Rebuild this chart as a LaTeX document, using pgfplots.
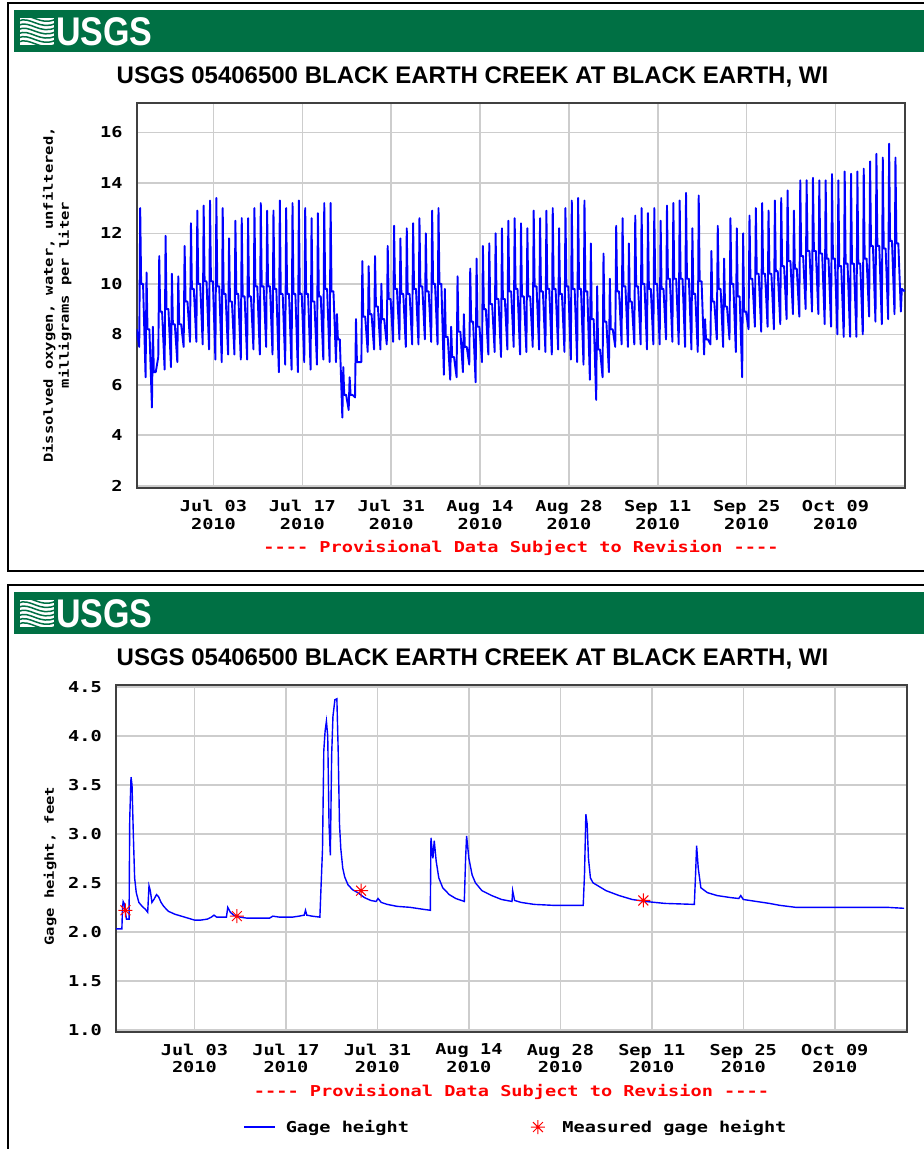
\documentclass[border=0pt]{standalone}
\usepackage{pgfplots}
\pgfplotsset{compat=1.18}
\usepackage{fontspec}
\setmainfont{Liberation Sans}
\newfontfamily\monofont[FakeStretch=1.24]{DejaVu Sans Mono}
\newfontfamily\logofont[FakeStretch=0.85]{Liberation Sans}
\definecolor{usgsgreen}{RGB}{0,112,68}
\definecolor{gridgray}{RGB}{205,205,205}
\definecolor{framegray}{RGB}{64,64,64}
\newcommand\tickfont{\monofont\bfseries\fontsize{15}{17.6}\selectfont}
\newcommand\labfont{\monofont\bfseries\fontsize{12.5}{16}\selectfont}
\newcommand\dashes{\mbox{-}\mbox{-}\mbox{-}\mbox{-}}
\pgfdeclareplotmark{ast8}{%
  \pgfpathmoveto{\pgfqpoint{-\pgfplotmarksize}{0pt}}\pgfpathlineto{\pgfqpoint{\pgfplotmarksize}{0pt}}%
  \pgfpathmoveto{\pgfqpoint{0pt}{-\pgfplotmarksize}}\pgfpathlineto{\pgfqpoint{0pt}{\pgfplotmarksize}}%
  \pgfpathmoveto{\pgfqpoint{-0.707\pgfplotmarksize}{-0.707\pgfplotmarksize}}\pgfpathlineto{\pgfqpoint{0.707\pgfplotmarksize}{0.707\pgfplotmarksize}}%
  \pgfpathmoveto{\pgfqpoint{-0.707\pgfplotmarksize}{0.707\pgfplotmarksize}}\pgfpathlineto{\pgfqpoint{0.707\pgfplotmarksize}{-0.707\pgfplotmarksize}}%
  \pgfusepathqstroke}
\pgfplotsset{
  usgs/.style={
    scale only axis,
    xmin=-12, xmax=109,
    axis line style={framegray, line width=2pt},
    grid=major,
    major grid style={gridgray, line width=1.6pt},
    major tick length=0pt,
    tick style={draw=none},
    tick label style={font=\tickfont},
    /pgf/number format/assume math mode=true,
    xtick={0,14,28,42,56,70,84,98},
    xticklabels={{Jul 03\\2010},{Jul 17\\2010},{Jul 31\\2010},{Aug 14\\2010},{Aug 28\\2010},{Sep 11\\2010},{Sep 25\\2010},{Oct 09\\2010}},
    xticklabel style={align=center, inner sep=0pt, yshift=-12pt},
    yticklabel style={inner sep=0pt, xshift=-14pt},
  }
}
\newcommand\usgsheader[1]{%
  \begin{scope}[yshift=#1]
    \fill[usgsgreen] (14,-10) rectangle (930,-52);
    \begin{scope}
      \clip (20,-18) rectangle (54,-45);
      \fill[white] (20,-18) rectangle (54,-45);
      \foreach \k in {0,...,6} \draw[usgsgreen, line width=1.5pt] (18,-17-4.2*\k) .. controls (30,-11-4.2*\k) and (40,-27-4.2*\k) .. (56,-19-4.2*\k);
    \end{scope}
    \node[anchor=base west, inner sep=0pt, text=white, font=\logofont\bfseries\fontsize{40}{40}\selectfont] at (56,-45) {USGS};
    \node[anchor=base, inner sep=0pt, font=\bfseries\fontsize{24}{28}\selectfont] at (472.5,-83.5) {USGS 05406500 BLACK EARTH CREEK AT BLACK EARTH, WI};
  \end{scope}}
\begin{document}
\begin{tikzpicture}[x=1pt,y=1pt]
\useasboundingbox (0,0) rectangle (924,-1149);
\fill[white] (0,0) rectangle (924,-1149);
% ---------------- panel 1
\draw[black, line width=1.5pt] (8,-3) rectangle (940,-571);
\usgsheader{0pt}
\begin{axis}[usgs, at={(136.7pt,-103.3pt)}, anchor=north west, width=768.6pt, height=385pt,
  xmin=-12.1, ymin=1.9, ymax=17.15, ytick={2,4,6,8,10,12,14,16}, yticklabels={2,4,6,8,10,12,14,16}]
\addplot[blue, line width=1.9pt, line join=round] coordinates {
(-12.1,8.2)
(-11.7,7.5)(-11.55,13.0)(-11.4,10.0)(-11.1,10.0)
(-10.7,6.3)(-10.55,10.45)(-10.4,8.2)(-10.1,8.2)
(-9.7,5.1)(-9.55,8.3)(-9.4,6.5)(-9.1,6.5)
(-8.7,7.1)(-8.55,11.1)(-8.4,8.9)(-8.1,8.9)
(-7.7,6.6)(-7.55,11.9)(-7.4,9.0)(-7.1,9.0)
(-6.7,6.7)(-6.55,10.4)(-6.4,8.4)(-6.1,8.4)
(-5.7,6.9)(-5.55,10.3)(-5.4,8.4)(-5.1,8.4)
(-4.7,7.5)(-4.55,11.5)(-4.4,9.3)(-4.1,9.3)
(-3.7,7.7)(-3.55,12.4)(-3.4,9.8)(-3.1,9.8)
(-2.7,7.7)(-2.55,12.9)(-2.4,10.0)(-2.1,10.0)
(-1.7,7.6)(-1.55,13.1)(-1.4,10.1)(-1.1,10.1)
(-0.7,7.4)(-0.55,13.3)(-0.4,10.1)(-0.1,10.1)
(0.3,7.0)(0.45,13.4)(0.6,9.9)(0.9,9.9)
(1.3,6.9)(1.45,13.0)(1.6,9.6)(1.9,9.6)
(2.3,7.2)(2.45,11.8)(2.6,9.3)(2.9,9.3)
(3.3,7.2)(3.45,12.5)(3.6,9.6)(3.9,9.6)
(4.3,7.0)(4.45,12.6)(4.6,9.5)(4.9,9.5)
(5.3,7.0)(5.45,12.6)(5.6,9.5)(5.9,9.5)
(6.3,7.4)(6.45,13.0)(6.6,9.9)(6.9,9.9)
(7.3,7.2)(7.45,13.2)(7.6,9.9)(7.9,9.9)
(8.3,7.5)(8.45,12.9)(8.6,9.9)(8.9,9.9)
(9.3,7.2)(9.45,12.9)(9.6,9.8)(9.9,9.8)
(10.3,6.5)(10.45,13.3)(10.6,9.6)(10.9,9.6)
(11.3,6.8)(11.45,13.0)(11.6,9.6)(11.9,9.6)
(12.3,6.6)(12.45,13.2)(12.6,9.6)(12.9,9.6)
(13.3,6.5)(13.45,13.3)(13.6,9.6)(13.9,9.6)
(14.3,6.9)(14.45,13.0)(14.6,9.6)(14.9,9.6)
(15.3,6.6)(15.45,12.6)(15.6,9.3)(15.9,9.3)
(16.3,6.8)(16.45,12.8)(16.6,9.5)(16.9,9.5)
(17.3,7.0)(17.45,13.2)(17.6,9.8)(17.9,9.8)
(18.3,6.9)(18.45,13.2)(18.6,9.7)(18.9,9.7)
(19.3,6.9)(19.45,8.8)(19.6,7.8)(19.9,7.8)
(20.3,4.7)(20.45,6.7)(20.6,5.6)(20.9,5.6)
(21.3,5.0)(21.45,6.3)(21.6,5.6)(21.9,5.6)
(22.3,5.5)(22.45,8.6)(22.6,6.9)(22.9,6.9)
(23.3,6.9)(23.45,10.9)(23.6,8.7)(23.9,8.7)
(24.3,7.3)(24.45,10.7)(24.6,8.8)(24.9,8.8)
(25.3,7.4)(25.45,11.1)(25.6,9.1)(25.9,9.1)
(26.3,7.4)(26.45,10.0)(26.6,8.6)(26.9,8.6)
(27.3,7.6)(27.45,11.5)(27.6,9.4)(27.9,9.4)
(28.3,7.7)(28.45,12.3)(28.6,9.8)(28.9,9.8)
(29.3,7.8)(29.45,11.8)(29.6,9.6)(29.9,9.6)
(30.3,7.5)(30.45,12.2)(30.6,9.6)(30.9,9.6)
(31.3,7.6)(31.45,12.4)(31.6,9.8)(31.9,9.8)
(32.3,7.6)(32.45,12.6)(32.6,9.9)(32.9,9.9)
(33.3,7.8)(33.45,12.0)(33.6,9.7)(33.9,9.7)
(34.3,7.7)(34.45,12.9)(34.6,10.0)(34.9,10.0)
(35.3,7.6)(35.45,13.0)(35.6,10.0)(35.9,10.0)
(36.3,6.4)(36.45,9.8)(36.6,7.9)(36.9,7.9)
(37.3,6.2)(37.45,8.3)(37.6,7.1)(37.9,7.1)
(38.3,6.3)(38.45,10.3)(38.6,8.1)(38.9,8.1)
(39.3,6.5)(39.45,8.8)(39.6,7.5)(39.9,7.5)
(40.3,6.8)(40.45,10.6)(40.6,8.5)(40.9,8.5)
(41.3,6.1)(41.45,11.0)(41.6,8.3)(41.9,8.3)
(42.3,6.9)(42.45,11.5)(42.6,9.0)(42.9,9.0)
(43.3,7.2)(43.45,11.6)(43.6,9.2)(43.9,9.2)
(44.3,7.3)(44.45,12.0)(44.6,9.4)(44.9,9.4)
(45.3,7.1)(45.45,12.2)(45.6,9.4)(45.9,9.4)
(46.3,7.4)(46.45,12.5)(46.6,9.7)(46.9,9.7)
(47.3,7.5)(47.45,12.6)(47.6,9.8)(47.9,9.8)
(48.3,7.2)(48.45,12.4)(48.6,9.5)(48.9,9.5)
(49.3,7.3)(49.45,12.2)(49.6,9.5)(49.9,9.5)
(50.3,7.5)(50.45,12.9)(50.6,9.9)(50.9,9.9)
(51.3,7.4)(51.45,12.6)(51.6,9.7)(51.9,9.7)
(52.3,7.3)(52.45,12.9)(52.6,9.8)(52.9,9.8)
(53.3,7.2)(53.45,13.0)(53.6,9.8)(53.9,9.8)
(54.3,7.4)(54.45,12.2)(54.6,9.6)(54.9,9.6)
(55.3,7.3)(55.45,13.0)(55.6,9.9)(55.9,9.9)
(56.3,7.0)(56.45,13.3)(56.6,9.8)(56.9,9.8)
(57.3,6.9)(57.45,13.4)(57.6,9.8)(57.9,9.8)
(58.3,6.8)(58.45,13.3)(58.6,9.7)(58.9,9.7)
(59.3,6.2)(59.45,11.6)(59.6,8.6)(59.9,8.6)
(60.3,5.4)(60.45,9.9)(60.6,7.4)(60.9,7.4)
(61.3,6.3)(61.45,11.2)(61.6,8.5)(61.9,8.5)
(62.3,6.5)(62.45,10.2)(62.6,8.2)(62.9,8.2)
(63.3,7.5)(63.45,12.3)(63.6,9.7)(63.9,9.7)
(64.3,7.6)(64.45,12.6)(64.6,9.9)(64.9,9.9)
(65.3,7.5)(65.45,11.6)(65.6,9.3)(65.9,9.3)
(66.3,7.6)(66.45,12.7)(66.6,9.9)(66.9,9.9)
(67.3,7.6)(67.45,13.0)(67.6,10.0)(67.9,10.0)
(68.3,7.4)(68.45,12.8)(68.6,9.8)(68.9,9.8)
(69.3,7.6)(69.45,13.0)(69.6,10.0)(69.9,10.0)
(70.3,7.6)(70.45,12.5)(70.6,9.8)(70.9,9.8)
(71.3,7.8)(71.45,13.1)(71.6,10.2)(71.9,10.2)
(72.3,7.7)(72.45,13.2)(72.6,10.2)(72.9,10.2)
(73.3,7.6)(73.45,13.3)(73.6,10.2)(73.9,10.2)
(74.3,7.5)(74.45,13.6)(74.6,10.2)(74.9,10.2)
(75.3,7.4)(75.45,12.2)(75.6,9.6)(75.9,9.6)
(76.3,7.3)(76.45,13.5)(76.6,10.1)(76.9,10.1)
(77.3,7.2)(77.45,8.6)(77.6,7.8)(77.9,7.8)
(78.3,7.6)(78.45,11.3)(78.6,9.3)(78.9,9.3)
(79.3,7.8)(79.45,12.3)(79.6,9.8)(79.9,9.8)
(80.3,7.5)(80.45,11.0)(80.6,9.1)(80.9,9.1)
(81.3,7.8)(81.45,12.6)(81.6,10.0)(81.9,10.0)
(82.3,7.3)(82.45,12.2)(82.6,9.5)(82.9,9.5)
(83.3,6.3)(83.45,12.0)(83.6,8.9)(83.9,8.9)
(84.3,8.2)(84.45,12.7)(84.6,10.2)(84.9,10.2)
(85.3,8.3)(85.45,13.0)(85.6,10.4)(85.9,10.4)
(86.3,8.1)(86.45,13.2)(86.6,10.4)(86.9,10.4)
(87.3,8.3)(87.45,12.9)(87.6,10.4)(87.9,10.4)
(88.3,8.2)(88.45,13.3)(88.6,10.5)(88.9,10.5)
(89.3,8.4)(89.45,13.4)(89.6,10.7)(89.9,10.7)
(90.3,8.6)(90.45,13.7)(90.6,10.9)(90.9,10.9)
(91.3,8.8)(91.45,12.9)(91.6,10.6)(91.9,10.6)
(92.3,8.7)(92.45,14.1)(92.6,11.1)(92.9,11.1)
(93.3,9.0)(93.45,14.1)(93.6,11.3)(93.9,11.3)
(94.3,8.9)(94.45,14.2)(94.6,11.3)(94.9,11.3)
(95.3,8.8)(95.45,14.1)(95.6,11.2)(95.9,11.2)
(96.3,8.4)(96.45,14.1)(96.6,11.0)(96.9,11.0)
(97.3,8.3)(97.45,14.35)(97.6,11.0)(97.9,11.0)
(98.3,8.0)(98.45,14.1)(98.6,10.7)(98.9,10.7)
(99.3,7.9)(99.45,14.45)(99.6,10.8)(99.9,10.8)
(100.3,7.9)(100.45,14.36)(100.6,10.8)(100.9,10.8)
(101.3,7.9)(101.45,14.45)(101.6,10.8)(101.9,10.8)
(102.3,8.0)(102.45,14.56)(102.6,11.0)(102.9,11.0)
(103.3,8.7)(103.45,14.85)(103.6,11.5)(103.9,11.5)
(104.3,8.5)(104.45,15.15)(104.6,11.5)(104.9,11.5)
(105.3,8.4)(105.45,15.0)(105.6,11.4)(105.9,11.4)
(106.3,8.6)(106.45,15.55)(106.6,11.7)(106.9,11.7)
(107.3,8.8)(107.45,15.0)(107.6,11.6)(107.9,11.6)
(108.3,8.9)(108.45,9.8)(108.9,9.7)
};
\end{axis}
\node[rotate=90, align=center, font=\labfont] at (57,-295) {Dissolved oxygen, water, unfiltered,\\milligrams per liter};
\node[text=red, font=\tickfont] at (521,-548) {\dashes{} Provisional Data Subject to Revision \dashes};
% ---------------- panel 2
\draw[black, line width=1.5pt] (8,-585) rectangle (940,-1170);
\usgsheader{-582pt}
\begin{axis}[usgs, at={(116pt,-685pt)}, anchor=north west, width=790.7pt, height=346.7pt,
  ymin=0.98, ymax=4.52, ytick={1,1.5,2,2.5,3,3.5,4,4.5}, yticklabels={1.0,1.5,2.0,2.5,3.0,3.5,4.0,4.5},
  legend columns=2,
  legend style={at={(0.161,-0.275)}, anchor=west, draw=none, fill=none, font=\tickfont, inner sep=0pt,
    nodes={inner sep=0pt},
    /tikz/every odd column/.append style={column sep=10pt},
    /tikz/every even column/.append style={column sep=122pt}}]
\addplot[blue, line width=1.4pt, legend image code/.code={\draw[blue, line width=1.3pt] (0pt,0pt) -- (31pt,0pt);}] coordinates {
(-12.0,2.03)(-11.1,2.03)(-11.0,2.25)(-10.9,2.31)(-10.75,2.29)(-10.6,2.22)(-10.4,2.13)(-10.0,2.13)
(-9.9,3.15)(-9.7,3.58)(-9.55,3.5)(-9.35,3.0)(-9.15,2.55)(-8.9,2.4)(-8.5,2.3)(-8.0,2.26)(-7.5,2.23)
(-7.15,2.2)(-6.95,2.47)(-6.75,2.42)(-6.5,2.3)(-6.2,2.33)(-5.8,2.38)(-5.5,2.36)(-5.1,2.3)(-4.7,2.26)
(-4.0,2.21)(-3.0,2.18)(-2.0,2.16)(-1.0,2.14)(0.0,2.12)(1.0,2.12)(2.0,2.13)(2.6,2.15)(3.0,2.17)
(3.4,2.15)(4.9,2.15)(5.1,2.25)(5.5,2.2)(6.0,2.17)(7.0,2.15)(8.0,2.14)(10.0,2.14)(11.5,2.14)
(12.0,2.16)(13.0,2.15)(15.0,2.15)(16.0,2.16)(16.8,2.17)(17.0,2.22)(17.2,2.17)(18.0,2.16)(19.2,2.15)
(19.4,2.5)(19.6,2.84)(19.8,3.85)(20.0,4.05)(20.2,4.15)(20.4,4.0)(20.6,3.1)(20.8,2.78)(21.0,3.8)
(21.2,4.2)(21.5,4.37)(21.8,4.38)(22.0,3.85)(22.2,3.1)(22.4,2.85)(22.7,2.65)(23.0,2.56)(23.5,2.48)
(24.2,2.43)(25.0,2.4)(26.0,2.35)(27.0,2.32)(27.8,2.31)(28.1,2.34)(28.6,2.3)(29.5,2.28)(31.0,2.26)
(33.0,2.25)(35.0,2.23)(36.1,2.22)(36.2,2.96)(36.5,2.75)(36.7,2.93)(37.0,2.72)(37.4,2.55)(38.0,2.45)
(39.0,2.38)(40.0,2.34)(41.3,2.31)(41.5,2.75)(41.65,2.98)(42.0,2.75)(42.5,2.58)(43.0,2.5)(44.0,2.42)
(45.5,2.37)(47.0,2.33)(48.6,2.31)(48.7,2.42)(49.0,2.32)(50.0,2.3)(52.0,2.28)(55.0,2.27)(59.5,2.27)
(59.7,2.6)(59.9,3.2)(60.1,3.1)(60.3,2.75)(60.6,2.55)(61.0,2.5)(61.5,2.48)(62.0,2.46)(63.0,2.42)
(65.0,2.37)(67.0,2.33)(69.0,2.31)(72.0,2.29)(76.5,2.28)(76.7,2.6)(76.85,2.88)(77.1,2.65)(77.5,2.45)
(78.5,2.4)(80.0,2.37)(82.0,2.35)(83.3,2.34)(83.6,2.37)(84.0,2.33)(86.0,2.31)(88.0,2.29)(89.6,2.27)
(92.0,2.25)(96.0,2.25)(100.0,2.25)(104.0,2.25)(106.0,2.25)(108.6,2.24)
};
\addlegendentry{Gage height}
\addplot[only marks, red, mark=ast8, mark size=7pt, line width=1pt,
  legend image code/.code={\draw[red, line width=1pt] plot[mark=ast8, mark size=7pt] coordinates {(7pt,0pt)}; \path (21pt,0pt);}]
  coordinates {(-10.55,2.22)(6.5,2.16)(25.5,2.42)(68.7,2.32)};
\addlegendentry{Measured gage height}
\end{axis}
\node[rotate=90, font=\labfont] at (50,-866) {Gage height, feet};
\node[text=red, font=\tickfont] at (511.5,-1092) {\dashes{} Provisional Data Subject to Revision \dashes};
\end{tikzpicture}
\end{document}
